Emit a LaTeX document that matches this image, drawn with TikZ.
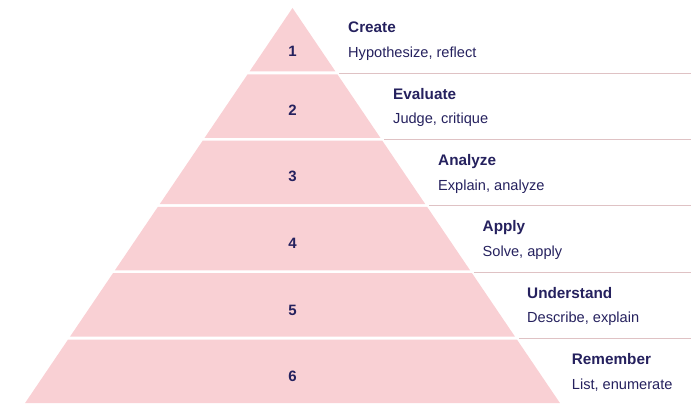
\documentclass[tikz,border=0pt]{standalone}
\usepackage{fontspec}
\setmainfont{Liberation Sans}
\definecolor{pyrfill}{HTML}{F9D0D4}
\definecolor{rulecol}{HTML}{DFC2C4}
\definecolor{navy}{HTML}{25215E}
\begin{document}
\begin{tikzpicture}[x=1pt,y=-1pt,
  band/.style={fill=pyrfill,draw=none},
  rulestyle/.style={draw=rulecol,line width=0.9pt},
  lvltitle/.style={anchor=base west,inner sep=0pt,text=navy,font=\fontsize{15.3}{18}\selectfont\bfseries},
  lvlsub/.style={anchor=base west,inner sep=0pt,text=navy,font=\fontsize{14.6}{17}\selectfont},
  lvlnum/.style={anchor=base,inner sep=0pt,text=navy,font=\fontsize{15}{18}\selectfont\bfseries}]
\useasboundingbox (0,0) rectangle (691,412);
\def\s{0.677}
\def\cx{292.5}
% bands
\foreach \t/\b [count=\i] in {8/71.5,74.3/137.8,140.6/204.1,206.9/270.4,273.2/336.7,339.5/403}{
  \pgfmathsetmacro\tl{\cx-\s*(\t-8)}
  \pgfmathsetmacro\tr{\cx+\s*(\t-8)}
  \pgfmathsetmacro\bl{\cx-\s*(\b-8)}
  \pgfmathsetmacro\br{\cx+\s*(\b-8)}
  \fill[band] (\tl,\t) -- (\tr,\t) -- (\br,\b) -- (\bl,\b) -- cycle;
}
% rules
\foreach \y in {73.3,139.6,205.9,272.2,338.5}{
  \pgfmathsetmacro\xs{\cx+\s*(\y-8)+2.5}
  \coordinate (rs) at (\xs,\y);
  \coordinate (re) at (691,\y);
  \draw[rulestyle] (rs) -- (re);
}
% numbers
\node[lvlnum] (n1) at (\cx,56.9) {1};
\node[lvlnum] (n2) at (\cx,115.5) {2};
\node[lvlnum] (n3) at (\cx,181.9) {3};
\node[lvlnum] (n4) at (\cx,248.5) {4};
\node[lvlnum] (n5) at (\cx,315) {5};
\node[lvlnum] (n6) at (\cx,381.5) {6};
% labels
\foreach \x/\ti/\su [count=\i] in {348/Create/{Hypothesize, reflect},393/Evaluate/{Judge, critique},438/Analyze/{Explain, analyze},482.5/Apply/{Solve, apply},527/Understand/{Describe, explain},571.7/Remember/{List, enumerate}}{
  \pgfmathsetmacro\yt{33+66.3*(\i-1)}
  \pgfmathsetmacro\ys{\yt+24.7}
  \node[lvltitle] (t\i) at (\x,\yt) {\ti};
  \node[lvlsub] (s\i) at (\x,\ys) {\su};
}
\end{tikzpicture}
\end{document}
